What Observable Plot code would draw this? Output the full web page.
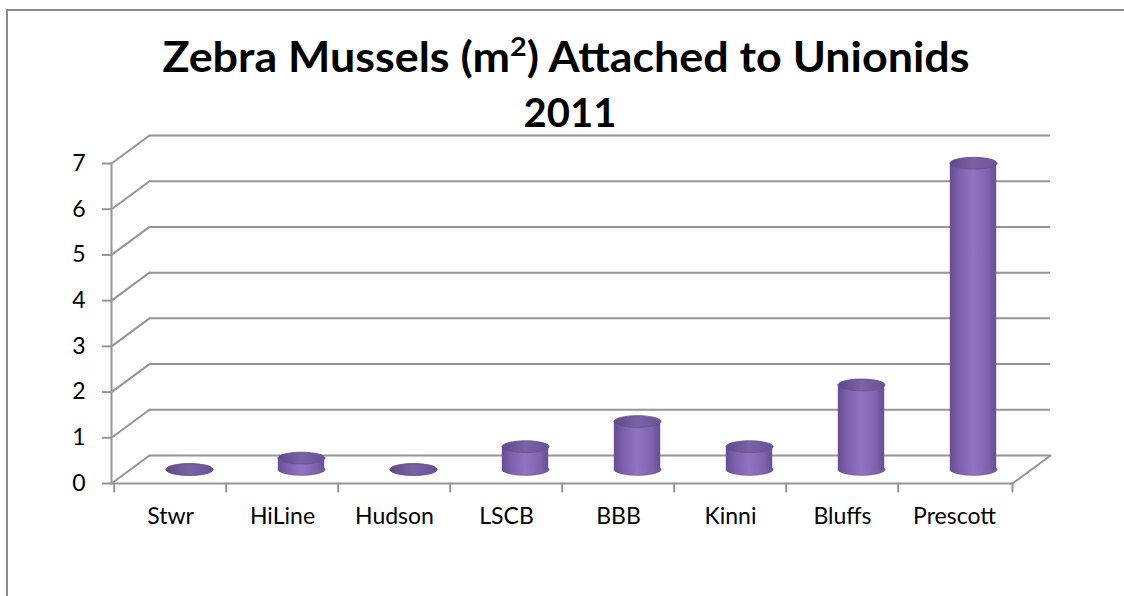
<!DOCTYPE html>
<html>
<head>
<meta charset="utf-8">
<script src="https://cdn.jsdelivr.net/npm/d3@7"></script>
<script src="https://cdn.jsdelivr.net/npm/@observablehq/plot@0.6"></script>
<style>
  html, body { margin: 0; padding: 0; background: white; overflow: hidden; }
  #wrap { position: relative; width: 1124px; height: 596px; overflow: hidden; background: white; }
  #wrap > * { position: absolute; left: 0; top: 0; }
  #border { position: absolute; left: 6px; top: 9px; width: 1400px; height: 900px; border-top: 2px solid #8c8c8c; border-left: 2px solid #8c8c8c; }
  #cover { position: absolute; left: 1106px; top: 12px; width: 18px; height: 45px; background: white; }
  #chart svg text { font-family: Lato, "Open Sans", sans-serif !important; font-size: 23px !important; font-weight: 400 !important; fill: black; }
  #title text { font-family: Lato, "Open Sans", sans-serif; font-weight: 700; }
</style>
</head>
<body>
<div id="wrap">
  <div id="chart"></div>
  <div id="border"></div>
  <div id="cover"></div>
  <svg id="title" width="1124" height="140">
    <text x="566" y="72" text-anchor="middle" font-size="42" textLength="807" lengthAdjust="spacingAndGlyphs">Zebra Mussels (m<tspan baseline-shift="super" font-size="27">2</tspan>) Attached to Unionids</text>
    <text x="570" y="127" text-anchor="middle" font-size="40">2011</text>
  </svg>
</div>
<script>
// ---- data ----
const categories = ["Stwr", "HiLine", "Hudson", "LSCB", "BBB", "Kinni", "Bluffs", "Prescott"];
const values = [0, 0.25, 0, 0.5, 1.05, 0.5, 1.85, 6.7];
const yTicks = [0, 1, 2, 3, 4, 5, 6, 7];

const data = categories.map((site, i) => ({site, value: values[i]}));

// ---- layout / style ----
const W = 1124, H = 596;
const mL = 111, mR = 112, mT = 163, mB = 113;
const depthDx = 38, depthDy = -28;          // 3D wall depth in px
const depthLen = Math.hypot(depthDx, depthDy);
const depthAngle = Math.atan2(depthDx, -depthDy) * 180 / Math.PI;
const halfStep = (W - mL - mR) / categories.length / 2;
const cylR = 23.5;                          // cylinder radius (px)
const gridColor = "#959595";

const lineShape = {draw(context, l) { context.moveTo(0, 0); context.lineTo(0, -l); }};
const ellipse = {
  draw(context, size) {
    const rx = Math.sqrt(size / Math.PI), ry = rx * 0.25, k = 0.5523;
    context.moveTo(-rx, 0);
    context.bezierCurveTo(-rx, -ry * k, -rx * k, -ry, 0, -ry);
    context.bezierCurveTo(rx * k, -ry, rx, -ry * k, rx, 0);
    context.bezierCurveTo(rx, ry * k, rx * k, ry, 0, ry);
    context.bezierCurveTo(-rx * k, ry, -rx, ry * k, -rx, 0);
    context.closePath();
  }
};

const plot = Plot.plot({
  width: W, height: H,
  marginLeft: mL, marginRight: mR, marginTop: mT, marginBottom: mB,
  style: {fontFamily: "Lato, sans-serif", fontSize: "23px", background: "transparent", color: "black", overflow: "visible"},
  x: {type: "band", domain: categories, paddingInner: 0, paddingOuter: 0},
  y: {domain: [0, 7]},
  marks: [
    // back wall gridlines
    Plot.ruleY(yTicks, {y: d => d, dx: depthDx, dy: depthDy, stroke: gridColor, strokeWidth: 2}),
    // side wall diagonals
    Plot.vector(yTicks, {y: d => d, frameAnchor: "left", length: depthLen, rotate: depthAngle, anchor: "start", shape: lineShape, stroke: gridColor, strokeWidth: 2}),
    // floor front edge and right diagonal
    Plot.ruleY([0], {stroke: gridColor, strokeWidth: 2}),
    Plot.vector([0], {y: d => d, frameAnchor: "right", length: depthLen, rotate: depthAngle, anchor: "start", shape: lineShape, stroke: gridColor, strokeWidth: 2}),
    // category boundary ticks
    Plot.vector(categories, {x: d => d, y: () => 0, dx: -halfStep, length: 8, rotate: 180, anchor: "start", shape: lineShape, stroke: gridColor, strokeWidth: 2}),
    Plot.vector([0], {y: d => d, frameAnchor: "right", length: 8, rotate: 180, anchor: "start", shape: lineShape, stroke: gridColor, strokeWidth: 2}),
    // front vertical axis line
    Plot.frame({anchor: "left", stroke: gridColor, strokeWidth: 2}),
    // cylinders: bottom cap, body, top cap
    Plot.dot(data, {x: "site", y: () => 0, dx: depthDx / 2, dy: depthDy / 2, r: cylR, symbol: ellipse, fill: "url(#cylBody)", stroke: "#6a5296", strokeWidth: 0.6}),
    Plot.barY(data, {x: "site", y: "value", dx: depthDx / 2, dy: depthDy / 2, insetLeft: halfStep - cylR, insetRight: halfStep - cylR, fill: "url(#cylBody)"}),
    Plot.dot(data, {x: "site", y: "value", dx: depthDx / 2, dy: depthDy / 2, r: cylR, symbol: ellipse, fill: "url(#cylTop)", stroke: "#64508f", strokeWidth: 0.8}),
    // axes
    Plot.axisY({ticks: yTicks, tickFormat: d => String(d), tickSize: 9, tickPadding: 17, stroke: gridColor, strokeWidth: 2, label: null}),
    Plot.axisX({tickSize: 0, tickPadding: 24, label: null})
  ]
});

const svg = plot.tagName.toLowerCase() === "svg" ? plot : plot.querySelector("svg");
const defs = d3.select(svg).insert("defs", ":first-child");
const gb = defs.append("linearGradient").attr("id", "cylBody").attr("x1", 0).attr("x2", 1).attr("y1", 0).attr("y2", 0);
[[0, "#664d92"], [0.2, "#7d61ac"], [0.5, "#9373c0"], [0.8, "#8064b0"], [1, "#674e94"]]
  .forEach(([o, c]) => gb.append("stop").attr("offset", o).attr("stop-color", c));
const gt = defs.append("linearGradient").attr("id", "cylTop").attr("x1", 0).attr("x2", 1).attr("y1", 0).attr("y2", 0);
[[0, "#5f4889"], [0.5, "#7a62a6"], [1, "#6a5296"]]
  .forEach(([o, c]) => gt.append("stop").attr("offset", o).attr("stop-color", c));

document.getElementById("chart").appendChild(plot);
</script>
</body>
</html>
